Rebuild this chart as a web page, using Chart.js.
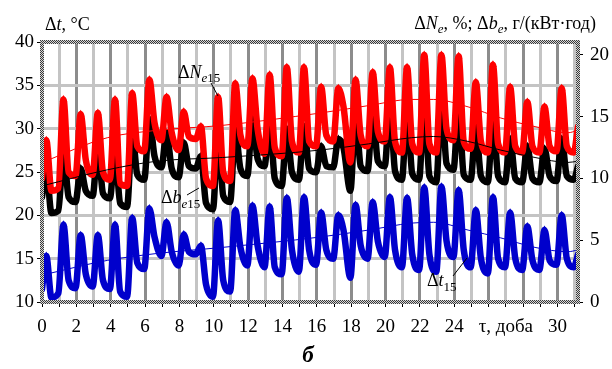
<!DOCTYPE html>
<html>
<head>
<meta charset="utf-8">
<script src="https://cdn.jsdelivr.net/npm/chart.js@4.4.0/dist/chart.umd.min.js"></script>
<style>
  body { margin: 0; background: #fff; }
  #wrap { width: 612px; height: 369px; }
</style>
</head>
<body>
<div id="wrap"><canvas id="chart" width="612" height="369"></canvas></div>
<script>
// readings per day: peak (~d+0.25), after the peak (~d+0.55), trough (~d+0.95)
const days = [0, 1, 2, 3, 4, 5, 6, 7, 8, 9, 10, 11, 12, 13, 14, 15, 16, 17, 18, 19, 20, 21, 22, 23, 24, 25, 26, 27, 28, 29, 30];
const xMax = 31.2;

// Δt15, °C (left axis)
const blueStart = 11.5, blueEnd = 15.5;
const bluePeak  = [15.3, 18.9, 17.7, 17.7, 18.9, 19.7, 20.8, 19.2, 17.8, 16.5, 19.4, 20.6, 21.1, 21.0, 22.0, 22.1, 20.3, 20.0, 21.2, 21.5, 22.1, 22.0, 23.2, 23.3, 22.9, 20.6, 22.1, 20.3, 18.7, 18.3, 20.0];
const blueAfter = [10.5, 12.5, 13.2, 12.5, 11.2, 14.5, 17.5, 15.8, 15.8, 12.0, 12.5, 16.3, 16.5, 14.0, 16.0, 16.0, 16.0, 18.3, 16.5, 17.0, 16.0, 15.5, 15.5, 17.0, 16.0, 15.0, 15.0, 15.0, 14.8, 14.8, 15.0];
const blueLow   = [11.0, 11.6, 11.8, 11.5, 10.6, 13.8, 15.3, 14.2, 15.5, 10.6, 11.2, 14.2, 14.0, 13.2, 13.5, 14.3, 15.0, 12.8, 15.0, 15.2, 14.0, 13.7, 13.5, 15.2, 14.0, 13.3, 14.0, 13.7, 13.7, 14.3, 14.0];

// ΔNe15, % (right axis)
const redStart = 10.0, redEnd = 14.2;
const redPeak  = [13.1, 16.4, 15.2, 15.3, 16.4, 16.9, 18.0, 16.6, 15.4, 14.2, 16.6, 17.7, 18.1, 18.4, 19.0, 19.0, 17.4, 17.3, 18.0, 18.6, 19.0, 19.0, 20.0, 20.0, 19.9, 17.8, 19.2, 17.4, 16.2, 15.8, 17.3];
const redAfter = [9.0, 10.5, 11.5, 10.5, 9.6, 12.6, 14.5, 13.7, 13.4, 10.0, 10.5, 13.5, 14.0, 12.5, 13.0, 13.0, 13.5, 15.8, 13.5, 13.8, 13.0, 12.8, 12.8, 14.0, 13.0, 13.0, 12.8, 12.6, 12.6, 12.6, 12.6];
const redLow   = [9.2, 10.2, 10.3, 9.9, 9.4, 12.2, 13.1, 12.3, 13.2, 9.4, 9.8, 12.6, 12.0, 11.8, 12.1, 12.6, 13.0, 11.3, 12.6, 13.0, 12.1, 12.1, 12.1, 13.1, 12.4, 12.1, 12.1, 12.1, 12.1, 12.2, 12.1];

// Δbe15, г/(кВт·год) (right axis)
const blackStart = 8.5, blackEnd = 11.0;
const blackPeak  = [10.8, 12.2, 10.8, 12.6, 12.2, 13.7, 14.8, 13.7, 12.9, 11.8, 13.8, 14.0, 14.9, 14.7, 14.0, 14.2, 12.6, 13.2, 15.3, 15.4, 16.1, 15.8, 16.4, 16.5, 15.8, 14.2, 15.0, 13.2, 12.6, 12.4, 13.2];
const blackAfter = [7.2, 8.5, 9.0, 8.8, 8.0, 10.3, 11.8, 10.8, 11.0, 8.0, 8.6, 10.8, 11.6, 10.0, 10.5, 10.8, 11.0, 12.5, 11.0, 11.4, 10.6, 10.4, 10.2, 11.2, 10.3, 10.2, 10.2, 10.0, 10.0, 10.2, 10.2];
const blackLow   = [7.4, 8.1, 8.6, 8.4, 7.7, 9.9, 10.9, 10.1, 10.8, 7.5, 8.1, 10.2, 11.0, 9.4, 9.9, 10.5, 10.9, 9.0, 10.6, 11.0, 9.9, 9.9, 9.7, 10.7, 9.9, 9.7, 9.7, 9.7, 9.7, 9.8, 9.9];

// thin trend lines
const trendDays  = [0, 3.8, 6.7, 10.5, 16.2, 19, 21.5, 22.8, 24.8, 26.7, 28.7, 30.6, 31.2];
const redTrend   = [11.3, 13.3, 13.9, 14.3, 15.3, 15.9, 16.4, 16.4, 15.8, 14.9, 14.2, 13.7, 13.9];
const blackTrend = [9.4, 10.7, 11.4, 11.7, 12.3, 12.8, 13.3, 13.4, 13.0, 12.3, 11.7, 11.3, 11.4];
const blueTrend  = [13.1, 14.8, 15.6, 16.3, 17.5, 18.3, 19.1, 19.2, 18.3, 17.4, 16.3, 15.8, 16.0];

const FONT = "'Liberation Serif', 'Times New Roman', serif";

function buildSeries(start, peak, after, low, end) {
    const pts = [{ x: 0, y: start }];
    days.forEach((d, i) => {
        pts.push({ x: d + 0.25, y: peak[i], pk: true });
        pts.push({ x: d + 0.55, y: after[i] });
        pts.push({ x: d + 0.95, y: low[i] });
    });
    pts.push({ x: xMax, y: end });
    return pts;
}

function trend(vals) {
    return trendDays.map((t, i) => ({ x: t, y: vals[i] }));
}

function thick(data, color, axis, order) {
    return {
        data: data, yAxisID: axis, order: order,
        borderColor: color, borderWidth: 6.5, borderJoinStyle: 'round', borderCapStyle: 'round',
        cubicInterpolationMode: 'monotone',
        pointStyle: 'triangle',
        pointRadius: ctx => (ctx.raw && ctx.raw.pk ? 4.5 : 0),
        pointBackgroundColor: color, pointBorderColor: color, pointBorderWidth: 0
    };
}

function thin(data, color, axis) {
    return {
        data: data, yAxisID: axis, order: 0,
        borderColor: color, borderWidth: 1, pointRadius: 0,
        cubicInterpolationMode: 'monotone'
    };
}

function framePattern(ctx) {
    const c = document.createElement('canvas');
    c.width = 2; c.height = 2;
    const g = c.getContext('2d');
    g.fillStyle = '#d8d8d8'; g.fillRect(0, 0, 2, 2);
    g.fillStyle = '#3a3a3a'; g.fillRect(0, 0, 1, 1); g.fillRect(1, 1, 1, 1);
    return ctx.createPattern(c, 'repeat');
}

// parts: [text, size, italic, dy, bold]
function rich(ctx, parts, x, y, align) {
    const font = p => (p[4] ? 'bold ' : '') + (p[2] ? 'italic ' : '') + p[1] + 'px ' + FONT;
    let w = 0;
    parts.forEach(p => { ctx.font = font(p); w += ctx.measureText(p[0]).width; });
    let cx = align === 'right' ? x - w : (align === 'center' ? x - w / 2 : x);
    parts.forEach(p => {
        ctx.font = font(p);
        ctx.fillText(p[0], cx, y + (p[3] || 0));
        cx += ctx.measureText(p[0]).width;
    });
}

function leader(ctx, x1, y1, x2, y2) {
    ctx.beginPath();
    ctx.moveTo(x1, y1);
    ctx.lineTo(x2, y2);
    ctx.stroke();
}

const decor = {
    id: 'decor',
    afterDatasetsDraw(chart) {
        const { ctx, chartArea: a } = chart;
        ctx.save();
        ctx.strokeStyle = framePattern(ctx);
        ctx.lineWidth = 4;
        ctx.strokeRect(a.left, a.top, a.right - a.left, a.bottom - a.top);
        ctx.restore();
    },
    afterDraw(chart) {
        const ctx = chart.ctx;
        ctx.save();
        ctx.fillStyle = '#000';
        ctx.strokeStyle = '#000';
        ctx.lineWidth = 1;
        ctx.textBaseline = 'alphabetic';

        rich(ctx, [['Δ', 18], ['t', 18, true], [', °C', 18]], 45, 30, 'left');
        rich(ctx, [['Δ', 18], ['N', 18, true], ['e', 13, true, 4], [', %; Δ', 18], ['b', 18, true],
                   ['e', 13, true, 4], [', г/(кВт·год)', 18]], 596, 29, 'right');

        rich(ctx, [['Δ', 18], ['N', 18, true], ['e', 13, true, 4], ['15', 13, false, 4]], 178, 78, 'left');
        leader(ctx, 211, 83, 218, 96);

        rich(ctx, [['Δ', 18], ['b', 18, true], ['e', 13, true, 5], ['15', 13, false, 5]], 161, 203, 'left');
        leader(ctx, 187, 195, 199, 188);

        rich(ctx, [['Δ', 18], ['t', 18, true], ['15', 13, false, 5]], 427, 286, 'left');
        leader(ctx, 453, 276, 467, 258);

        rich(ctx, [['б', 23, true, 0, true]], 308, 362, 'center');
        ctx.restore();
    }
};

const tickFont = { family: FONT, size: 19 };

new Chart(document.getElementById('chart'), {
    type: 'line',
    data: {
        datasets: [
            thin(trend(redTrend), '#ff0000', 'y2'),
            thin(trend(blackTrend), '#000000', 'y2'),
            thin(trend(blueTrend), '#0000cc', 'y'),
            thick(buildSeries(redStart, redPeak, redAfter, redLow, redEnd), '#ff0000', 'y2', 1),
            thick(buildSeries(blackStart, blackPeak, blackAfter, blackLow, blackEnd), '#000000', 'y2', 2),
            thick(buildSeries(blueStart, bluePeak, blueAfter, blueLow, blueEnd), '#0000cc', 'y', 3)
        ]
    },
    options: {
        responsive: false,
        animation: false,
        layout: { padding: { top: 42, left: 0, right: 0, bottom: 0 } },
        plugins: { legend: { display: false }, tooltip: { enabled: false } },
        scales: {
            x: {
                type: 'linear', min: 0, max: xMax,
                ticks: {
                    stepSize: 1, autoSkip: false, maxRotation: 0, includeBounds: false,
                    padding: 9, color: '#000', font: tickFont,
                    callback: v => {
                        if (v === 27) return 'τ, доба';
                        if (v === 26 || v === 28) return '';
                        return v % 2 === 0 ? String(v) : '';
                    }
                },
                grid: {
                    color: ctx => (ctx.tick && ctx.tick.value % 2 === 0 ? '#8c8c8c' : '#c4c4c4'),
                    lineWidth: 3, tickColor: '#000', tickWidth: 1, tickLength: 5
                },
                border: { display: false },
                afterFit: s => { s.height = 67; }
            },
            y: {
                position: 'left', min: 10, max: 40,
                ticks: {
                    stepSize: 2.5, includeBounds: false, padding: 3, color: '#000', font: tickFont,
                    callback: v => (v % 5 === 0 ? String(v) : '')
                },
                grid: { color: '#c4c4c4', lineWidth: 3, tickColor: '#000', tickWidth: 1, tickLength: 5 },
                border: { display: false },
                afterFit: s => { s.width = 42; }
            },
            y2: {
                position: 'right', min: 0, max: 21.05,
                ticks: { stepSize: 5, includeBounds: false, padding: 7, color: '#000', font: tickFont },
                grid: { drawOnChartArea: false, tickColor: '#000', tickWidth: 1, tickLength: 5 },
                border: { display: false },
                afterFit: s => { s.width = 34; }
            }
        }
    },
    plugins: [decor]
});
</script>
</body>
</html>
